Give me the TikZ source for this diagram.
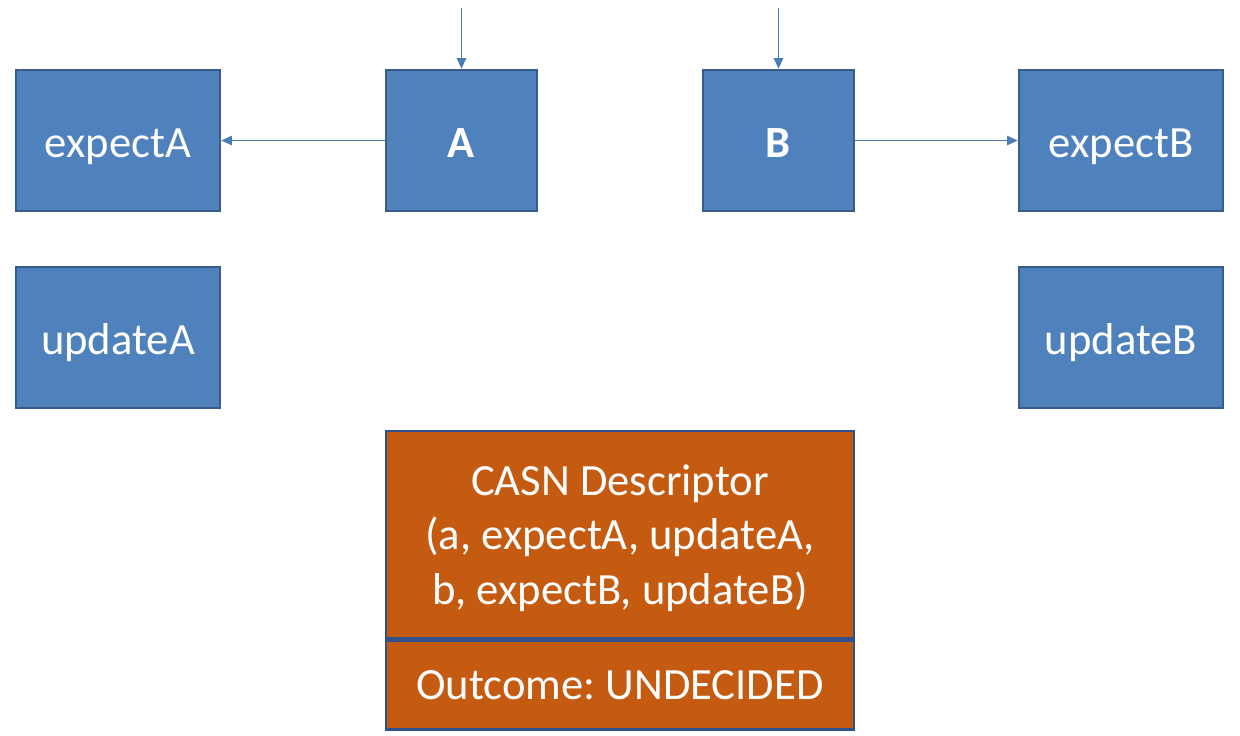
\documentclass[tikz,border=0pt]{standalone}
\usepackage{fontspec}
\setmainfont{Carlito}
\usetikzlibrary{positioning}
\usetikzlibrary{arrows.meta,calc}

\definecolor{boxblue}{HTML}{4F81BD}
\definecolor{edgeblue}{HTML}{385D8A}
\definecolor{descorange}{HTML}{C55A11}
\definecolor{descedge}{HTML}{2F528F}

\tikzset{
  regbox/.style={draw=edgeblue, line width=0.7pt, fill=boxblue, text=white,
    minimum width=20.4mm, minimum height=14.1mm, inner sep=0pt,
    text height=9.4pt, text depth=0pt,
    font=\fontsize{12.7}{15.6}\selectfont},
  varbox/.style={regbox, minimum width=15.1mm},
  descbox/.style={draw=descedge, line width=0.7pt, fill=descorange, text=white,
    minimum width=46.8mm, inner sep=0pt, align=center, text depth=0pt,
    font=\fontsize{12.7}{15.6}\selectfont},
  ptr/.style={-{Triangle[length=3pt,width=2.6pt]}, line width=0.5pt, draw=boxblue!95!black}
}

\begin{document}
\frenchspacing
\begin{tikzpicture}[x=0.1mm, y=-0.1mm]

	\useasboundingbox (0,0) rectangle (1240,735);

	% memory words
	\foreach \x/\name/\txt in {461.5/A/A, 778.5/B/B} {
		\node[varbox] (\name) at (\x, 140.5) {\textbf{\txt}};
	}

	% expected and new values
	\foreach \x/\s in {118/A, 1121/B} {
		\node[regbox] (expect\s) at (\x, 140.5) {expect\s};
		\node[regbox] (update\s) at (\x, 337.5) {update\s};
	}

	% descriptor
	\node[descbox, minimum height=20.7mm] (desc) at (620, 534.5)
		{CASN Descriptor\\(a, expectA, updateA,\\b, expectB, updateB)};
	\node[descbox, minimum height=8.9mm, below=0pt of desc] (outcome)
		{Outcome: UNDECIDED};

	\coordinate (inA) at (461.5, 8);
	\coordinate (inB) at (778.5, 8);

	\draw[ptr] (inA) -- (A.north);
	\draw[ptr] (inB) -- (B.north);
	\draw[ptr] (A.west) -- (expectA.east);
	\draw[ptr] (B.east) -- (expectB.west);

\end{tikzpicture}
\end{document}
